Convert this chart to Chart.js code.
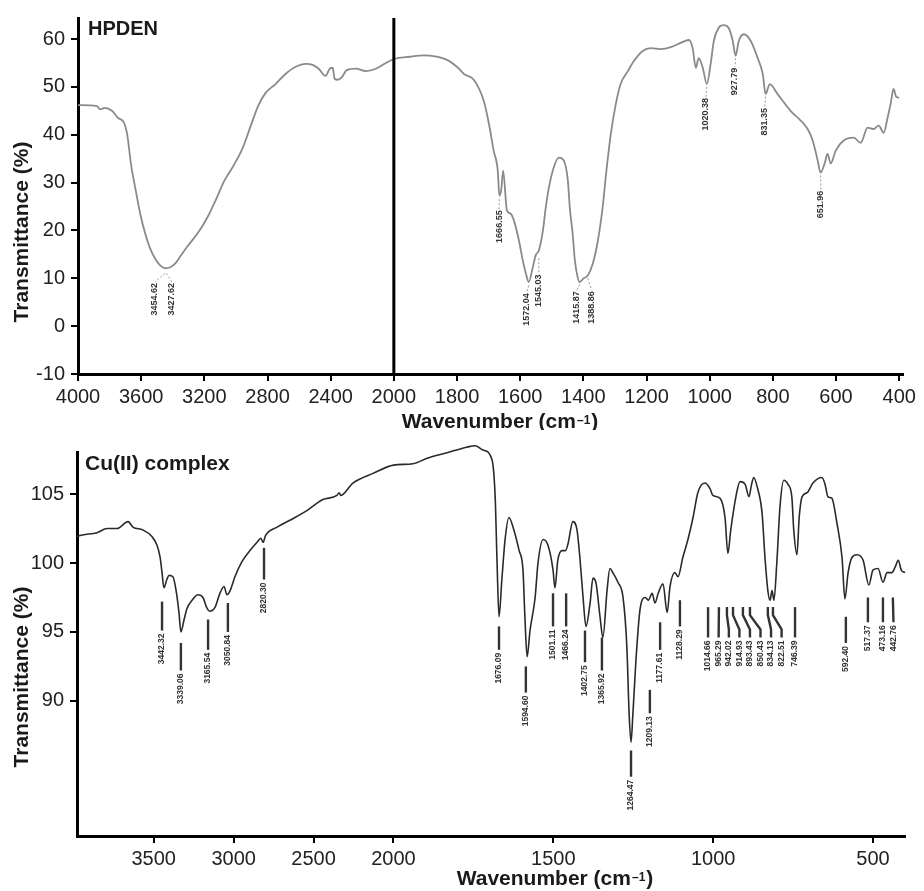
<!DOCTYPE html>
<html><head><meta charset="utf-8">
<script src="https://cdn.jsdelivr.net/npm/chart.js@4/dist/chart.umd.min.js"></script>
<style>
html,body{margin:0;padding:0;background:#fff;}
#wrap{position:relative;width:924px;height:891px;background:#fff;}
#c1{position:absolute;left:0;top:0;}
#c2{position:absolute;left:0;top:430px;}
</style></head><body>
<div id="wrap">
<canvas id="c1" width="924" height="430" style="width:924px;height:430px"></canvas>
<canvas id="c2" width="924" height="461" style="width:924px;height:461px"></canvas>
</div>
<script>
// ---------- DATA ----------
const hpdenWavenumber = [4000,3880,3860,3830,3785,3746,3708,3689,3663,3638,3606,3575,3543,3511,3480,3448,3416,3384,3352,3302,3238,3181,3130,3073,3016,2959,2908,2857,2813,2749,2686,2622,2559,2514,2476,2432,2406,2387,2375,2356,2330,2298,2241,2178,2114,2051,2000,1950,1905,1870,1830,1797,1778,1747,1715,1699,1684,1671,1666,1660,1654,1642,1630,1620,1604,1592,1582,1573,1560,1551,1541,1528,1519,1509,1494,1478,1462,1449,1443,1434,1427,1418,1412,1399,1386,1370,1354,1339,1326,1313,1297,1282,1259,1240,1212,1187,1155,1123,1092,1066,1054,1044,1035,1022,1009,997,987,972,956,940,927,918,908,892,870,848,832,823,810,785,744,690,674,658,649,636,627,617,601,576,544,522,500,481,465,449,437,427,418,410,400];
const hpdenTransmittance = [46.2,46.0,45.3,45.6,45.0,43.5,42.5,40.2,33.5,29.0,23.5,19.4,16.2,14.1,12.7,12.1,12.3,13.1,14.6,16.9,19.6,22.7,26.2,30.4,33.5,37.1,41.7,46.2,48.7,50.6,52.7,54.2,54.8,54.6,53.8,52.3,53.8,54.0,51.7,51.5,52.0,53.5,53.8,53.3,53.8,55.0,55.8,56.3,56.6,56.4,55.6,54.0,52.7,51.5,47.0,42.3,36.7,32.5,27.3,28.5,32.5,24.2,23.5,22.1,17.9,13.8,11.0,9.2,12.3,14.8,15.8,20.0,24.8,29.0,33.1,35.2,34.6,30.4,24.8,19.4,13.8,10.2,9.2,10.0,10.6,13.1,17.9,24.8,33.1,40.2,46.5,50.6,53.3,55.4,57.5,58.1,57.9,58.3,59.2,59.8,58.1,54.0,56.0,54.0,50.6,54.8,59.6,62.3,62.9,62.3,59.6,56.5,59.6,61.0,59.6,56.0,52.7,48.5,50.6,48.5,45.0,41.2,38.8,34.6,32.1,34.0,36.0,34.0,36.7,38.8,39.4,38.3,41.5,41.2,41.9,40.4,43.5,46.5,49.6,48.0,47.7];

const cuWavenumber = [3980,3961,3855,3792,3730,3660,3630,3568,3510,3480,3460,3448,3436,3418,3404,3380,3360,3342,3330,3310,3292,3260,3224,3192,3166,3150,3116,3086,3060,3042,3022,2992,2948,2898,2854,2830,2816,2800,2728,2648,2542,2442,2354,2340,2330,2254,2128,2000,1939,1895,1833,1771,1745,1720,1692,1682,1676,1670,1661,1651,1639,1626,1607,1595,1589,1582,1573,1557,1548,1532,1517,1501,1495,1486,1473,1462,1454,1439,1426,1417,1407,1398,1385,1376,1367,1354,1345,1332,1323,1314,1298,1282,1270,1263,1257,1251,1242,1229,1213,1203,1191,1182,1172,1157,1144,1135,1120,1110,1095,1079,1063,1048,1026,1010,1001,979,963,954,945,929,916,900,888,880,873,862,847,838,829,822,816,810,801,791,779,766,754,748,738,731,722,706,688,660,650,641,629,613,597,588,578,566,550,531,513,500,484,469,456,441,431,421,412,400];
const cuTransmittance = [101.9,102.0,102.2,102.5,102.5,103.0,102.6,102.4,101.9,101.3,100.4,99.3,98.2,98.8,99.1,99.0,98.0,96.4,95.0,95.9,96.7,97.3,97.7,97.5,96.7,96.5,96.8,97.8,98.3,97.7,98.0,99.0,100.1,100.9,101.5,101.8,101.5,102.0,102.6,103.1,103.8,104.6,104.9,105.1,104.9,105.8,106.5,107.1,107.2,107.6,108.0,108.4,108.5,108.2,107.5,104.8,100.0,96.1,98.8,101.7,103.3,102.6,100.9,99.5,96.1,93.2,95.1,97.5,100.0,101.7,101.3,99.5,98.2,100.2,100.9,100.9,101.4,103.0,102.4,100.4,97.5,95.4,97.1,98.9,98.6,96.1,94.6,98.0,99.6,99.3,98.6,97.5,93.9,89.1,87.0,89.1,92.8,96.6,97.5,97.3,97.8,97.1,97.8,98.5,96.4,98.3,99.3,99.0,100.4,101.7,103.3,105.1,105.8,105.4,104.9,104.7,103.3,100.7,102.4,104.8,105.9,105.7,104.8,105.7,106.2,105.5,103.6,100.4,98.0,97.3,98.0,97.3,100.0,104.1,106.0,105.7,104.8,102.4,100.6,103.3,104.8,105.1,105.8,106.2,105.7,104.8,104.7,102.9,100.4,97.4,99.3,100.4,100.6,100.2,98.4,99.5,99.6,98.6,99.3,99.3,99.7,100.2,99.5,99.3];

const topXTicks = [4000,3600,3200,2800,2400,2000,1800,1600,1400,1200,1000,800,600,400];
const topYTicks = [-10,0,10,20,30,40,50,60];
const botXTicks = [3500,3000,2500,2000,1500,1000,500];
const botYTicks = [90,95,100,105];

const hpdenPeakText = ["3454.62","3427.62","1666.55","1572.04","1545.03","1415.87","1388.86","1020.38","927.79","831.35","651.96"];
const hpdenPeakAt   = [3450,3440,1666,1573,1541,1412,1386,1009,918,823,649];
const cuPeakText = ["3442.32","3339.06","3165.54","3050.84","2820.30","1676.09","1594.60","1501.11","1466.24","1402.75","1365.92","1264.47","1209.13","1177.61","1128.29","1014.66","965.29","942.02","914.93","893.43","850.43","834.13","822.51","746.39","592.40","517.37","473.16","442.76"];
const cuPeakAt = [3448,3330,3160,3036,2810,1670,1586,1501,1460,1401,1348,1257,1198,1166,1104,1016,982,957,938,907,885,829,813,744,585,516,469,438];

// ---------- annotation layout (label placement) ----------
const hpdenLabelCol  = [3513,3405,1667,1579,1541,1421,1373,1012,920,825,648];
const hpdenLeaderTop = [11.0,11.0,26.5,8.5,14.2,8.7,10.0,50.0,56.0,48.0,31.5];
const hpdenTextTop   = [9.0,9.0,24.2,6.9,10.8,7.3,7.3,47.7,54.0,45.6,28.3];
const cuLabelCol = [3448,3330,3160,3036,2810,1670,1586,1501,1460,1401,1348,1257,1198,1166,1104,1016,983,951,918,885,852,819,786,744,585,516,469,436];
const cuBarTop = [97.2,94.2,95.9,97.1,101.1,95.4,92.5,97.8,97.8,95.1,94.6,86.4,90.8,95.7,97.3,96.8,96.8,96.8,96.8,96.8,96.8,96.8,96.8,96.8,96.1,97.5,97.5,97.5];
const cuBarBot = [95.1,92.2,93.7,95.0,98.8,93.7,90.6,95.4,95.4,92.8,92.2,84.5,89.1,93.7,95.4,94.6,94.6,94.6,94.6,94.6,94.6,94.6,94.6,94.6,94.2,95.7,95.7,95.7];

// ---------- helpers ----------
const FONT = '"Liberation Sans", Arial, sans-serif';
function toAxis(w){ return w >= 2000 ? (4000 - w) / 2 : 1000 + (2000 - w); }
function fromAxis(u){ return u <= 1000 ? 4000 - 2 * u : 3000 - u; }
function pts(ws, ts){ return ws.map((w, i) => ({x: toAxis(w), y: ts[i]})); }

function vtext(ctx, text, x, y, font, color){
  ctx.save(); ctx.translate(x, y); ctx.rotate(-Math.PI / 2);
  ctx.font = font + ' ' + FONT; ctx.fillStyle = color;
  ctx.textAlign = 'right'; ctx.textBaseline = 'middle';
  ctx.fillText(text, 0, 0); ctx.restore();
}
function yTitle(ctx, cx, cy){
  ctx.save(); ctx.translate(cx, cy); ctx.rotate(-Math.PI / 2);
  ctx.font = 'bold 21px ' + FONT; ctx.fillStyle = '#1a1a1a';
  ctx.textAlign = 'center'; ctx.textBaseline = 'middle';
  ctx.fillText('Transmittance (%)', 0, 0); ctx.restore();
}
function xTitle(ctx, cx, baseY){
  ctx.save();
  ctx.font = 'bold 21px ' + FONT; ctx.fillStyle = '#1a1a1a'; ctx.textBaseline = 'alphabetic';
  const a = 'Wavenumber (cm', b = '\u20131', c = ')';
  const wa = ctx.measureText(a).width, wc = ctx.measureText(c).width;
  ctx.font = 'bold 12px ' + FONT; const wb = ctx.measureText(b).width;
  let x = cx - (wa + wb + wc + 2) / 2;
  ctx.font = 'bold 21px ' + FONT; ctx.textAlign = 'left';
  ctx.fillText(a, x, baseY); x += wa + 1;
  ctx.font = 'bold 12px ' + FONT; ctx.fillText(b, x, baseY - 4); x += wb + 1;
  ctx.font = 'bold 21px ' + FONT; ctx.fillText(c, x, baseY);
  ctx.restore();
}

function xScale(min, max, ticks, h){
  return {
    type: 'linear', min: min, max: max,
    afterBuildTicks(s){ s.ticks = ticks.map(w => ({value: toAxis(w)})); },
    afterFit(s){ s.height = h; },
    grid: {drawOnChartArea: false, drawTicks: true, tickLength: 7, color: '#000', lineWidth: 2},
    border: {display: true, color: '#000', width: 3},
    ticks: {autoSkip: false, maxRotation: 0, minRotation: 0, padding: 4, color: '#222',
      font: {family: FONT, size: 20}, callback: (v) => String(Math.round(fromAxis(v)))}
  };
}
function yScale(min, max, ticks, w){
  return {
    type: 'linear', min: min, max: max,
    afterBuildTicks(s){ s.ticks = ticks.map(v => ({value: v})); },
    afterFit(s){ s.width = w; },
    grid: {drawOnChartArea: false, drawTicks: true, tickLength: 7, color: '#000', lineWidth: 2},
    border: {display: true, color: '#000', width: 3},
    ticks: {padding: 6, color: '#222', font: {family: FONT, size: 20}, callback: (v) => String(v)}
  };
}

// ---------- top chart: HPDEN ----------
const topPlugin = {
  id: 'topAnnot',
  afterDraw(chart){
    const ctx = chart.ctx, xs = chart.scales.x, ys = chart.scales.y, ca = chart.chartArea;
    ctx.save();
    ctx.strokeStyle = '#000'; ctx.lineWidth = 3;
    const xd = xs.getPixelForValue(toAxis(2000));
    ctx.beginPath(); ctx.moveTo(xd, ca.top); ctx.lineTo(xd, ca.bottom); ctx.stroke();
    ctx.strokeStyle = '#9a9a9a'; ctx.lineWidth = 1; ctx.setLineDash([2, 2]);
    hpdenPeakText.forEach((t, i) => {
      const x1 = xs.getPixelForValue(toAxis(hpdenPeakAt[i]));
      const x2 = xs.getPixelForValue(toAxis(hpdenLabelCol[i]));
      const y1 = ys.getPixelForValue(hpdenLeaderTop[i]);
      const y2 = ys.getPixelForValue(hpdenTextTop[i]);
      ctx.beginPath(); ctx.moveTo(x1, y1); ctx.lineTo(x2, y2 - 1); ctx.stroke();
      vtext(ctx, t, x2, y2, 'bold 9px', '#333');
    });
    ctx.setLineDash([]);
    ctx.font = 'bold 20px ' + FONT; ctx.fillStyle = '#1a1a1a'; ctx.textAlign = 'left'; ctx.textBaseline = 'alphabetic';
    ctx.fillText('HPDEN', 88, 35);
    ctx.restore();
    yTitle(ctx, 22, 232);
    xTitle(ctx, 500, 428);
  }
};

new Chart(document.getElementById('c1'), {
  type: 'line',
  data: {datasets: [{
    data: pts(hpdenWavenumber, hpdenTransmittance),
    borderColor: '#8a8a8a', borderWidth: 1.8, pointRadius: 0, fill: false,
    cubicInterpolationMode: 'monotone'
  }]},
  options: {
    responsive: false, animation: false,
    layout: {padding: {left: 0, right: 21, top: 17, bottom: 0}},
    plugins: {legend: {display: false}, tooltip: {enabled: false}},
    scales: {x: xScale(0, 2612, topXTicks, 56), y: yScale(-10, 64.4, topYTicks, 78)}
  },
  plugins: [topPlugin]
});

// ---------- bottom chart: Cu(II) complex ----------
const botPlugin = {
  id: 'botAnnot',
  afterDraw(chart){
    const ctx = chart.ctx, xs = chart.scales.x, ys = chart.scales.y;
    ctx.save();
    ctx.strokeStyle = '#333'; ctx.lineWidth = 2.4;
    cuPeakText.forEach((t, i) => {
      const x1 = xs.getPixelForValue(toAxis(cuPeakAt[i]));
      const x2 = xs.getPixelForValue(toAxis(cuLabelCol[i]));
      const y1 = ys.getPixelForValue(cuBarTop[i]);
      const y2 = ys.getPixelForValue(cuBarBot[i]);
      ctx.beginPath(); ctx.moveTo(x1, y1);
      if (Math.abs(x2 - x1) > 0.8) { ctx.lineTo(x1, y1 + 8); ctx.lineTo(x2, y2 - 8); }
      ctx.lineTo(x2, y2); ctx.stroke();
      vtext(ctx, t, x2, y2 + 3, 'bold 8.5px', '#333');
    });
    ctx.font = 'bold 21px ' + FONT; ctx.fillStyle = '#1a1a1a'; ctx.textAlign = 'left'; ctx.textBaseline = 'alphabetic';
    ctx.fillText('Cu(II) complex', 85, 40);
    ctx.restore();
    yTitle(ctx, 22, 247);
    xTitle(ctx, 555, 455);
  }
};

new Chart(document.getElementById('c2'), {
  type: 'line',
  data: {datasets: [{
    data: pts(cuWavenumber, cuTransmittance),
    borderColor: '#2a2a2a', borderWidth: 1.6, pointRadius: 0, fill: false,
    cubicInterpolationMode: 'monotone', clip: false
  }]},
  options: {
    responsive: false, animation: false,
    layout: {padding: {left: 0, right: 19, top: 22, bottom: 0}},
    plugins: {legend: {display: false}, tooltip: {enabled: false}},
    scales: {x: xScale(10, 2600, botXTicks, 55), y: yScale(80.2, 108.05, botYTicks, 77)}
  },
  plugins: [botPlugin]
});
</script>
</body></html>
